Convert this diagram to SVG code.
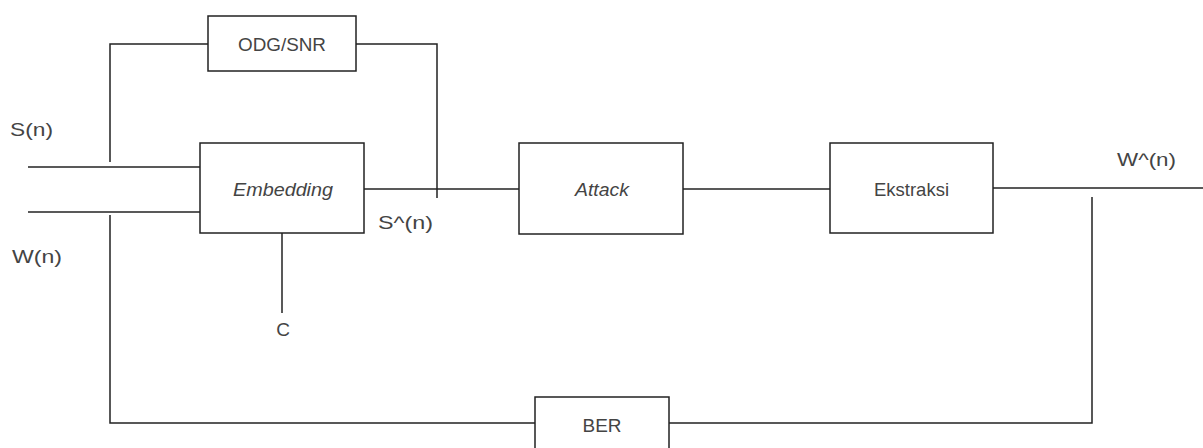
<svg xmlns="http://www.w3.org/2000/svg" width="1203" height="448" viewBox="0 0 1203 448">
<style>
.box{fill:#ffffff;stroke:#222222;stroke-width:1.5}
.ln{fill:none;stroke:#222222;stroke-width:1.5}
.t{font-family:"Liberation Sans",Arial,sans-serif;font-size:19px;fill:#444444}
.c{text-anchor:middle}
.i{font-style:italic}
</style>
<rect width="1203" height="448" fill="#ffffff"/>
<g id="connectors">
<path class="ln" d="M28 167H200"/>
<path class="ln" d="M28 212H200"/>
<path class="ln" d="M110 162V44H208"/>
<path class="ln" d="M356 44H437V198"/>
<path class="ln" d="M364 189H519"/>
<path class="ln" d="M683 189H830"/>
<path class="ln" d="M993 188H1203"/>
<path class="ln" d="M1092 197V423H669"/>
<path class="ln" d="M535 423H110V215"/>
<path class="ln" d="M282 233V313"/>
</g>
<g id="odg">
<rect class="box" x="208" y="16" width="148" height="55"/>
<text class="t c" x="282" y="51" textLength="88" lengthAdjust="spacingAndGlyphs">ODG/SNR</text>
</g>
<g id="embedding">
<rect class="box" x="200" y="143" width="164" height="90"/>
<text class="t c i" x="283" y="196" textLength="100" lengthAdjust="spacingAndGlyphs">Embedding</text>
</g>
<g id="attack">
<rect class="box" x="519" y="143" width="164" height="91"/>
<text class="t c i" x="602" y="196" textLength="54" lengthAdjust="spacingAndGlyphs">Attack</text>
</g>
<g id="ekstraksi">
<rect class="box" x="830" y="143" width="163" height="90"/>
<text class="t c" x="911.5" y="196" textLength="75" lengthAdjust="spacingAndGlyphs">Ekstraksi</text>
</g>
<g id="ber">
<rect class="box" x="535" y="397" width="134" height="90"/>
<text class="t c" x="602" y="432" textLength="39" lengthAdjust="spacingAndGlyphs">BER</text>
</g>
<g id="labels">
<text class="t" x="10" y="136" textLength="43" lengthAdjust="spacingAndGlyphs">S(n)</text>
<text class="t" x="12" y="263" textLength="50" lengthAdjust="spacingAndGlyphs">W(n)</text>
<text class="t" x="378" y="229" textLength="55" lengthAdjust="spacingAndGlyphs">S^(n)</text>
<text class="t c" x="283" y="336">C</text>
<text class="t" x="1117" y="166" textLength="59" lengthAdjust="spacingAndGlyphs">W^(n)</text>
</g>
</svg>
